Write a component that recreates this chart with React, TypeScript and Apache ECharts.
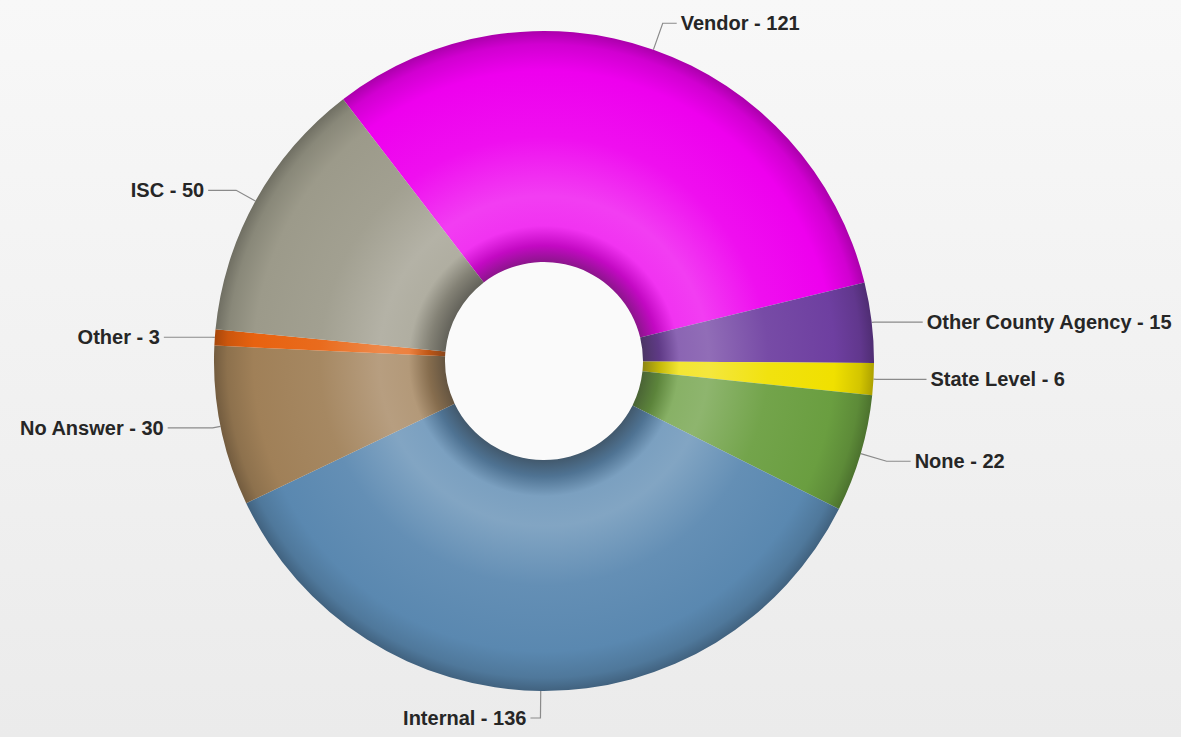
import React, { useEffect, useRef } from "react";
import * as echarts from "echarts";

const categories = ["Vendor", "Other County Agency", "State Level", "None", "Internal", "No Answer", "Other", "ISC"];
const values = [121, 15, 6, 22, 136, 30, 3, 50];
const sliceColors = ["#ee00ee", "#6e3fa0", "#f0e000", "#6a9e40", "#5a88b0", "#a08058", "#e8620f", "#9c9a8a"];
// leader line lengths (first radial segment, second horizontal segment)
const lineLen1 = [28, 3, 3, 27, 27, 8, 3, 22];
const lineLen2 = [14, 48, 50, 24, 10, 45, 48, 28];

const CX = 544;
const CY = 361;
const R_IN = 99;
const R_OUT = 330;

function hexToRgb(h: string) {
  const s = h.replace("#", "");
  return [parseInt(s.slice(0, 2), 16), parseInt(s.slice(2, 4), 16), parseInt(s.slice(4, 6), 16)];
}
function mix(a: string, b: string, t: number) {
  const x = hexToRgb(a);
  const y = hexToRgb(b);
  const c = x.map((v, i) => Math.round(v * (1 - t) + y[i] * t));
  return `rgb(${c[0]},${c[1]},${c[2]})`;
}
function shade(base: string) {
  const k = R_IN / R_OUT;
  return {
    type: "radial",
    x: CX,
    y: CY,
    r: R_OUT,
    global: true,
    colorStops: [
      { offset: 0, color: mix(base, "#2a2a2a", 0.5) },
      { offset: k, color: mix(base, "#2a2a2a", 0.5) },
      { offset: k + 0.05, color: mix(base, "#2a2a2a", 0.22) },
      { offset: k + 0.11, color: mix(base, "#ffffff", 0.2) },
      { offset: k + 0.2, color: mix(base, "#ffffff", 0.24) },
      { offset: 0.68, color: mix(base, "#ffffff", 0.06) },
      { offset: 0.88, color: base },
      { offset: 0.96, color: mix(base, "#000000", 0.12) },
      { offset: 1, color: mix(base, "#000000", 0.28) },
    ],
  };
}

export default function App() {
  const ref = useRef<HTMLDivElement>(null);
  useEffect(() => {
    if (!ref.current) return;
    const chart = echarts.init(ref.current, undefined, { renderer: "svg" });
    const data = categories.map((name, i) => ({
      name,
      value: values[i],
      itemStyle: { color: shade(sliceColors[i]) },
      labelLine: { length: lineLen1[i], length2: lineLen2[i] },
    }));
    chart.setOption({
      animation: false,
      backgroundColor: {
        type: "linear",
        x: 0,
        y: 0,
        x2: 0,
        y2: 1,
        colorStops: [
          { offset: 0, color: "#f8f8f8" },
          { offset: 1, color: "#ebebeb" },
        ],
      },
      graphic: [
        {
          type: "circle",
          silent: true,
          z: -1,
          shape: { cx: CX, cy: CY, r: R_IN + 1 },
          style: { fill: "#fafafa" },
        },
      ],
      series: [
        {
          type: "pie",
          center: [CX, CY],
          radius: [R_IN, R_OUT],
          startAngle: 127.5,
          clockwise: true,
          avoidLabelOverlap: false,
          silent: true,
          z: 2,
          data,
          label: {
            show: true,
            position: "outside",
            formatter: "{b} - {c}",
            color: "#262626",
            fontSize: 20,
            fontWeight: "bold",
            fontFamily: "'Liberation Sans', Arial, sans-serif",
            distanceToLabelLine: 4,
          },
          labelLine: {
            show: true,
            lineStyle: { color: "#8a8a8a", width: 1.2 },
          },
          emphasis: { disabled: true },
        },
      ],
    });
    return () => chart.dispose();
  }, []);
  return (
    <div
      ref={ref}
      style={{ position: "absolute", left: 0, top: 0, width: 1181, height: 737 }}
    />
  );
}
